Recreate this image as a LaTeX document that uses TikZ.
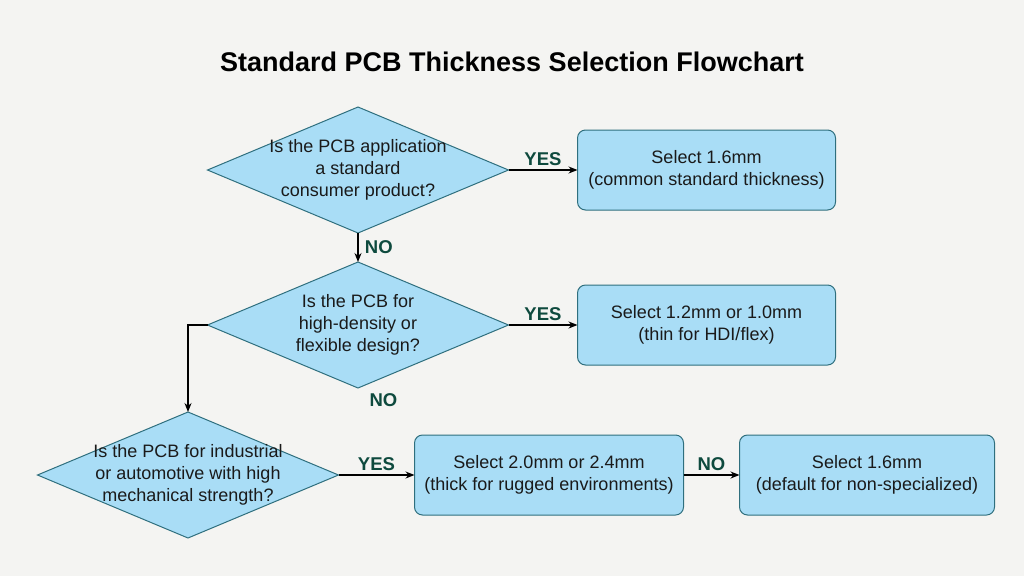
\documentclass[tikz,border=0pt]{standalone}
\usepackage{fontspec}
\setmainfont{Liberation Sans}
\usetikzlibrary{arrows.meta, positioning, shapes.geometric}

\definecolor{boxfill}{HTML}{A9DDF6}
\definecolor{boxline}{HTML}{2F6F7E}
\definecolor{answercol}{HTML}{0E4A3E}
\definecolor{paper}{HTML}{F4F4F2}
\definecolor{ink}{HTML}{1A1A1A}

\begin{document}
\begin{tikzpicture}[x=1pt, y=-1pt, >={Stealth[length=9pt, width=7pt]}, node distance=29pt]
      % Background
      \fill[paper] (0,0) rectangle (1024,576);
      \useasboundingbox (0,0) rectangle (1024,576);

      % Define the style for the nodes
      \tikzstyle{decision}=[diamond, draw=boxline, fill=boxfill, line width=1pt, minimum width=301pt, minimum height=126pt, inner sep=0pt, outer sep=0pt]
      \tikzstyle{qtext}=[align=center, text=ink, font=\fontsize{18}{22}\selectfont, inner sep=0pt]
      \tikzstyle{result}=[rectangle, rounded corners=8pt, draw=boxline, fill=boxfill, line width=1pt, minimum width=258pt, minimum height=80pt, outer sep=0pt, align=center, text=ink, font=\fontsize{18}{22}\selectfont]
      \tikzstyle{answer}=[text=answercol, font=\fontsize{18.5}{22}\selectfont\bfseries]

      % Title
      \node[font=\fontsize{27}{32}\selectfont\bfseries, text=black] (title) at (512,62) {Standard PCB Thickness Selection Flowchart};

      % Decision nodes
      \node[decision, label={[qtext]center:{Is the PCB application\\a standard\\consumer product?}}] (q1) at (358,170) {};
      \node[decision, label={[qtext]center:{Is the PCB for\\high-density or\\flexible design?}}] (q2) [below=of q1] {};
      \node[decision, label={[qtext]center:{Is the PCB for industrial\\or automotive with high\\mechanical strength?}}] (q3) [below=24pt of q2, xshift=-170pt] {};

      % Result nodes
      \node[result] (b1) [right=69pt of q1] {Select 1.6mm\\(common standard thickness)};
      \node[result] (b2) [right=69pt of q2] {Select 1.2mm or 1.0mm\\(thin for HDI/flex)};
      \node[result, minimum width=269pt] (b3) [right=76pt of q3] {Select 2.0mm or 2.4mm\\(thick for rugged environments)};
      \node[result, minimum width=255pt] (b4) [right=56pt of b3] {Select 1.6mm\\(default for non-specialized)};

      % Define the style for the edges
      \tikzstyle{edge} = [draw, line width=1.3pt, ->, black]

      % Edges
      \draw[edge] (q1.east) -- node[answer, above] {YES} (b1.west);
      \draw[edge] (q1.south) -- node[answer, right=3pt] {NO} (q2.north);
      \draw[edge] (q2.east) -- node[answer, above] {YES} (b2.west);
      \draw[edge] (q2.west) -| (q3.north);
      \draw[edge] (q3.east) -- node[answer, above] {YES} (b3.west);
      \draw[edge] (b3.east) -- node[answer, above] {NO} (b4.west);

      % Loose answer under the second question
      \node[answer] (no2) [below right=2pt and 8pt of q2.south] {NO};

    \end{tikzpicture}
\end{document}
